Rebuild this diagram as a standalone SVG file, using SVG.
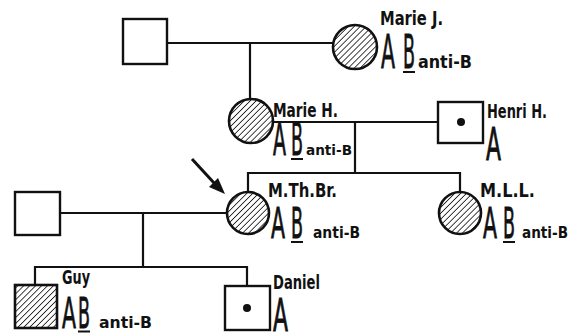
<svg xmlns="http://www.w3.org/2000/svg" width="574" height="334" viewBox="0 0 574 334">
<style>
.ln{stroke:#111;stroke-width:2.2;fill:none}
.sq{stroke:#111;stroke-width:2.4;fill:#fff}
.hc{stroke:#111;stroke-width:2.6;fill:url(#hatch)}
.dot{fill:#111}
text{font-family:"Liberation Sans Narrow","DejaVu Sans Condensed","Liberation Sans",sans-serif;fill:#111;font-weight:bold}
.nm{font-size:20px}
.big{font-size:46px;font-weight:normal;stroke:#111;stroke-width:0.8}
.sm{font-size:16px}
.ul{stroke:#111;stroke-width:2}
</style>
<defs>
<pattern id="hatch" patternUnits="userSpaceOnUse" width="4.2" height="4.2" patternTransform="rotate(45)">
<rect width="4.2" height="4.2" fill="#fff"/>
<line x1="0" y1="0" x2="0" y2="4.2" stroke="#111" stroke-width="1.6"/>
</pattern>
</defs>
<g id="connectors">
<path class="ln" d="M167,43 H334"/>
<path class="ln" d="M250,43 V99"/>
<path class="ln" d="M273,122 H438"/>
<path class="ln" d="M355,122 V173"/>
<path class="ln" d="M248,192 V173 H460 V192"/>
<path class="ln" d="M60,213 H227"/>
<path class="ln" d="M143,213 V267"/>
<path class="ln" d="M35,285 V267 H247 V286"/>
<path d="M192,159 L215,184" stroke="#111" stroke-width="3" fill="none"/>
<path d="M225,194 L209,187 L218,178 Z" fill="#111"/>
</g>
<g id="father1">
<rect class="sq" x="123" y="19" width="44" height="45"/>
</g>
<g id="marieJ">
<circle class="hc" cx="355" cy="47" r="22"/>
<text class="nm" x="380" y="25" textLength="63" lengthAdjust="spacingAndGlyphs">Marie J.</text>
<text class="big" x="381" y="68" textLength="14" lengthAdjust="spacingAndGlyphs">A</text>
<text class="big" x="403" y="68" textLength="12" lengthAdjust="spacingAndGlyphs">B</text>
<line class="ul" x1="403" y1="72" x2="415" y2="72"/>
<text class="sm" x="418" y="68" textLength="54" lengthAdjust="spacingAndGlyphs" style="font-size:17px">anti-B</text>
</g>
<g id="marieH">
<circle class="hc" cx="251" cy="121" r="22"/>
<text class="nm" x="273" y="117" textLength="65" lengthAdjust="spacingAndGlyphs">Marie H.</text>
<text class="big" x="273" y="155" textLength="13" lengthAdjust="spacingAndGlyphs" style="font-size:44px">A</text>
<text class="big" x="291" y="155" textLength="12" lengthAdjust="spacingAndGlyphs" style="font-size:44px">B</text>
<line class="ul" x1="291" y1="159" x2="303" y2="159"/>
<text class="sm" x="306" y="155" textLength="46" lengthAdjust="spacingAndGlyphs" style="font-size:14px">anti-B</text>
</g>
<g id="henriH">
<rect class="sq" x="438" y="102" width="45" height="41"/>
<circle class="dot" cx="461" cy="122" r="4"/>
<text class="nm" x="487" y="118" textLength="60" lengthAdjust="spacingAndGlyphs">Henri H.</text>
<text class="big" x="486" y="160" textLength="15" lengthAdjust="spacingAndGlyphs" style="font-size:44px">A</text>
</g>
<g id="father2">
<rect class="sq" x="15" y="192" width="45" height="43"/>
</g>
<g id="MThBr">
<circle class="hc" cx="248" cy="213" r="21"/>
<text class="nm" x="268" y="197" textLength="69" lengthAdjust="spacingAndGlyphs">M.Th.Br.</text>
<text class="big" x="271" y="238" textLength="14" lengthAdjust="spacingAndGlyphs" style="font-size:42px">A</text>
<text class="big" x="291" y="238" textLength="12" lengthAdjust="spacingAndGlyphs" style="font-size:42px">B</text>
<line class="ul" x1="291" y1="242" x2="303" y2="242"/>
<text class="sm" x="313" y="238" textLength="47" lengthAdjust="spacingAndGlyphs">anti-B</text>
</g>
<g id="MLL">
<circle class="hc" cx="460" cy="213" r="21"/>
<text class="nm" x="480" y="197" textLength="55" lengthAdjust="spacingAndGlyphs">M.L.L.</text>
<text class="big" x="483" y="238" textLength="14" lengthAdjust="spacingAndGlyphs" style="font-size:42px">A</text>
<text class="big" x="503" y="238" textLength="12" lengthAdjust="spacingAndGlyphs" style="font-size:42px">B</text>
<line class="ul" x1="503" y1="242" x2="515" y2="242"/>
<text class="sm" x="522" y="238" textLength="46" lengthAdjust="spacingAndGlyphs">anti-B</text>
</g>
<g id="guy">
<rect class="hc" x="15" y="285" width="42" height="43"/>
<text class="nm" x="62" y="284" textLength="28" lengthAdjust="spacingAndGlyphs">Guy</text>
<text class="big" x="62" y="328" textLength="14" lengthAdjust="spacingAndGlyphs" style="font-size:42px">A</text>
<text class="big" x="78" y="328" textLength="12" lengthAdjust="spacingAndGlyphs" style="font-size:42px">B</text>
<line class="ul" x1="78" y1="331.5" x2="90" y2="331.5"/>
<text class="sm" x="99" y="328" textLength="53" lengthAdjust="spacingAndGlyphs">anti-B</text>
</g>
<g id="daniel">
<rect class="sq" x="225" y="286" width="45" height="44"/>
<circle class="dot" cx="247" cy="308" r="4"/>
<text class="nm" x="273" y="289" textLength="47" lengthAdjust="spacingAndGlyphs" style="font-size:19px">Daniel</text>
<text class="big" x="273" y="331" textLength="15" lengthAdjust="spacingAndGlyphs" style="font-size:44px">A</text>
</g>
</svg>
